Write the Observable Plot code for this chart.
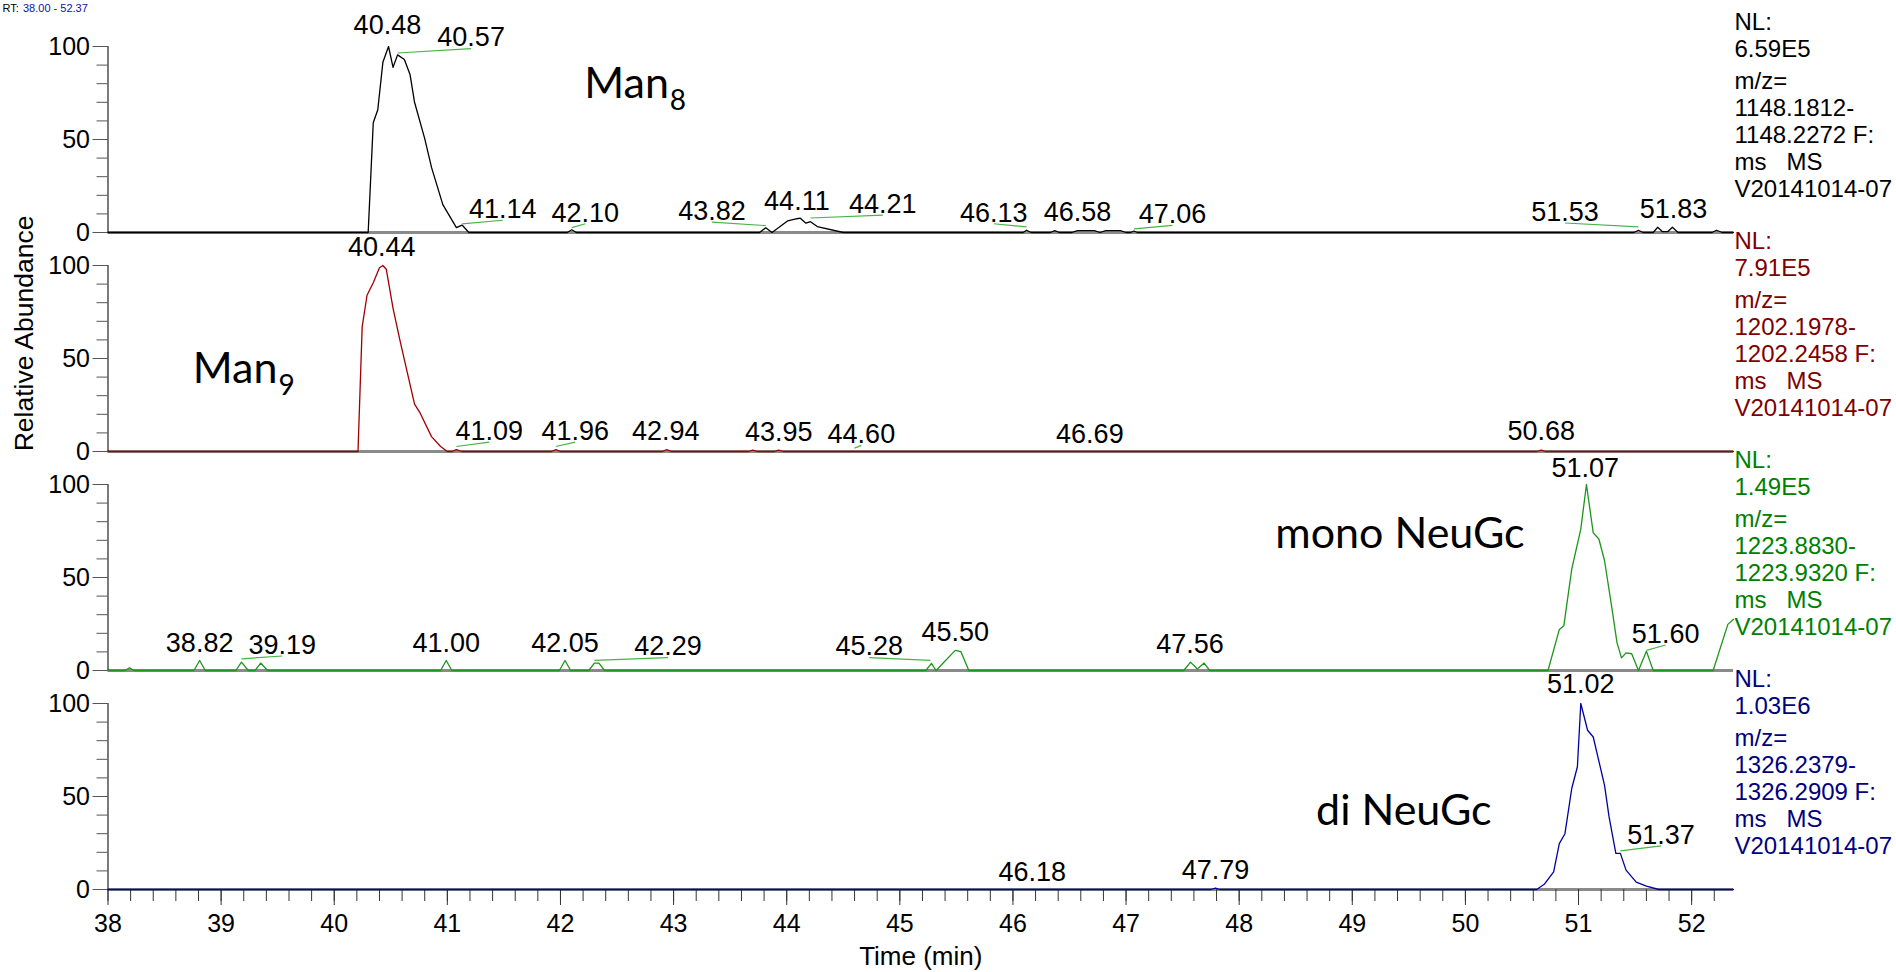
<!DOCTYPE html>
<html>
<head>
<meta charset="utf-8">
<script src="https://cdn.jsdelivr.net/npm/d3@7"></script>
<script src="https://cdn.jsdelivr.net/npm/@observablehq/plot@0.6"></script>
<style>
  body { margin: 0; background: #ffffff; }
  #chart { position: relative; width: 1896px; height: 972px; overflow: hidden; background: #fff; }
</style>
</head>
<body>
<div id="chart"></div>
<script>
// ---------- panels ----------
const panels = ["Man8", "Man9", "monoNeuGc", "diNeuGc"];
const textColors = ["#000000", "#800000", "#008000", "#000080"];
const lineColors = ["#000000", "#a00000", "#1c961c", "#0000a0"];

// ---------- traces (time in min, relative abundance %) ----------
const man8Time  = [38.00, 40.30, 40.345, 40.385, 40.43, 40.48, 40.52, 40.56, 40.62, 40.67, 40.71, 40.80, 40.86, 40.96, 41.08, 41.13, 41.19,
                   42.06, 42.10, 42.14, 43.76, 43.815, 43.87, 44.01, 44.09, 44.12, 44.17, 44.21, 44.27, 44.50,
                   46.09, 46.12, 46.16, 46.33, 46.37, 46.41, 46.52, 46.57, 46.72, 46.77, 46.82, 46.95, 47.00, 47.04, 47.07, 47.10,
                   51.49, 51.53, 51.57, 51.66, 51.70, 51.74, 51.79, 51.83, 51.88, 52.18, 52.22, 52.27, 52.37];
const man8Abund = [0, 0, 59, 66, 91.5, 100, 88.8, 95.5, 93, 85, 70, 50.5, 35, 15, 2.6, 4, 0,
                   0, 1.5, 0, 0, 2.5, 0, 6.3, 7.4, 7.7, 5, 5.8, 3.2, 0,
                   0, 1.2, 0, 0, 1, 0, 0, 1, 1, 0, 1, 1, 0, 0, 0.8, 0,
                   0, 1.2, 0, 0, 2.8, 0.5, 0.5, 2.8, 0, 0, 1.2, 0, 0];

const man9Time  = [38.00, 40.21, 40.247, 40.29, 40.345, 40.40, 40.43, 40.46, 40.52, 40.58, 40.64, 40.71, 40.76, 40.86, 40.94, 41.00, 41.04, 41.08, 41.13,
                   41.92, 41.96, 42.00, 42.90, 42.94, 42.98, 43.66, 43.70, 43.74, 43.89, 43.93, 43.97, 50.63, 50.67, 50.71, 52.37];
const man9Abund = [0, 0, 67, 84, 90.7, 98.8, 100, 98, 77, 60, 44, 25.5, 20.6, 8, 2.7, 0, 0, 1, 0,
                   0, 1, 0, 0, 1, 0, 0, 0.8, 0, 0, 0.8, 0, 0, 0.8, 0, 0];

const monoTime  = [38.00, 38.15, 38.19, 38.23, 38.76, 38.81, 38.86, 39.13, 39.18, 39.24, 39.30, 39.35, 39.41, 40.94, 40.99, 41.04,
                   41.99, 42.04, 42.09, 42.25, 42.30, 42.34, 42.39, 45.23, 45.28, 45.32, 45.49, 45.54, 45.61,
                   47.51, 47.57, 47.63, 47.69, 47.74,
                   50.73, 50.83, 50.87, 50.94, 51.02, 51.07, 51.13, 51.18, 51.23, 51.29, 51.34, 51.38, 51.42, 51.47, 51.53, 51.60, 51.66,
                   52.19, 52.32, 52.37];
const monoAbund = [0, 0, 1.4, 0, 0, 5.4, 0, 0, 4.5, 0, 0, 4, 0, 0, 5.4, 0,
                   0, 5.4, 0, 0, 4, 4, 0, 0, 3.8, 0, 10.8, 10.1, 0,
                   0, 4.5, 0.8, 4, 0,
                   0, 22, 24, 54.5, 76, 100, 74, 70.7, 59, 35.6, 15, 6.8, 9.5, 9, 0, 10.4, 0,
                   0, 24.8, 27.5];

const diTime    = [38.00, 47.75, 47.79, 47.83, 50.63, 50.70, 50.78, 50.83, 50.88, 50.94, 50.99, 51.02, 51.08, 51.13, 51.23, 51.27,
                   51.33, 51.37, 51.42, 51.51, 51.60, 51.71, 52.37];
const diAbund   = [0, 0, 0.8, 0, 0, 3, 9.5, 24.7, 30, 54.3, 66, 100, 85.6, 82, 56, 39,
                   19.4, 19.4, 10.4, 4, 1.8, 0, 0];

// ---------- peak labels ----------
const man8Labels = ["40.48", "40.57", "41.14", "42.10", "43.82", "44.11", "44.21", "46.13", "46.58", "47.06", "51.53", "51.83"];
const man8PeakT  = [40.48, 40.56, 41.13, 42.10, 43.815, 44.11, 44.21, 46.12, 46.58, 47.07, 51.53, 51.83];
const man8PeakV  = [100, 96.5, 4.6, 2.6, 3.7, 7.7, 7.8, 3, 1, 1.9, 3, 2.8];
const man8LabT   = [40.47, 41.21, 41.49, 42.22, 43.34, 44.09, 44.85, 45.83, 46.57, 47.41, 50.88, 51.84];
const man8LabV   = [106.7, 100.1, 7.8, 5.9, 6.8, 12.3, 10.5, 5.9, 6.3, 5.0, 6.3, 7.8];

const man9Labels = ["40.44", "41.09", "41.96", "42.94", "43.95", "44.60", "46.69", "50.68"];
const man9PeakT  = [40.43, 41.08, 41.96, 42.94, 43.93, 44.60, 46.69, 50.67];
const man9PeakV  = [100, 2.7, 2.7, 1, 0.8, 1.8, 0, 0.8];
const man9LabT   = [40.42, 41.37, 42.13, 42.93, 43.93, 44.66, 46.68, 50.67];
const man9LabV   = [105.1, 6.25, 6.25, 6.25, 5.7, 4.5, 4.5, 6.25];

const monoLabels = ["38.82", "39.19", "41.00", "42.05", "42.29", "45.28", "45.50", "47.56", "51.07", "51.60"];
const monoPeakT  = [38.81, 39.18, 40.99, 42.04, 42.30, 45.27, 45.50, 47.57, 51.07, 51.60];
const monoPeakV  = [5.4, 6.3, 5.4, 5.4, 5.4, 5.4, 10.8, 4.5, 100, 10.8];
const monoLabT   = [38.81, 39.54, 40.99, 42.04, 42.95, 44.73, 45.49, 47.565, 51.06, 51.77];
const monoLabV   = [10.0, 9.0, 10.0, 10.0, 8.1, 8.1, 15.8, 9.2, 104.3, 14.9];

const diLabels   = ["46.18", "47.79", "51.02", "51.37"];
const diPeakT    = [46.18, 47.79, 51.02, 51.37];
const diPeakV    = [0, 0.8, 100, 20.8];
const diLabT     = [46.17, 47.79, 51.02, 51.73];
const diLabV     = [4.6, 5.9, 105.4, 24.7];

// ---------- right-side scan info ----------
const nlValues  = ["6.59E5", "7.91E5", "1.49E5", "1.03E6"];
const mzLow     = ["1148.1812", "1202.1978", "1223.8830", "1326.2379"];
const mzHigh    = ["1148.2272", "1202.2458", "1223.9320", "1326.2909"];
const fileName  = "V20141014-07";

// ---------- compound names ----------
const nameMain = ["Man", "Man", "mono NeuGc", "di NeuGc"];
const nameSub  = ["8", "9", "", ""];
const nameT    = [42.21, 38.75, 48.32, 48.68];
const nameV    = [72.4, 36.8, 65.8, 34.6];

// ---------- header / axis titles ----------
const rtPrefix = "RT:";
const rtRange = "38.00 - 52.37";
const yTitle = "Relative Abundance";
const xTitle = "Time (min)";

// ---------- axes ----------
const xDomain = [38, 52.37];
const xMajorTicks = d3.range(38, 53, 1);
const xMinorTicks = d3.range(0, 72).map(i => 38 + i * 0.2).filter(v => v <= 52.37);
const yMajorTicks = [0, 50, 100];
const yMinorTicks = d3.range(0, 101, 10);

// ---------- build tables ----------
const traceTimes = [man8Time, man9Time, monoTime, diTime];
const traceAbund = [man8Abund, man9Abund, monoAbund, diAbund];
const labelSets = [
  [man8Labels, man8PeakT, man8PeakV, man8LabT, man8LabV],
  [man9Labels, man9PeakT, man9PeakV, man9LabT, man9LabV],
  [monoLabels, monoPeakT, monoPeakV, monoLabT, monoLabV],
  [diLabels, diPeakT, diPeakV, diLabT, diLabV]
];

const labelRows = [];
labelSets.forEach(([L, PT, PV, LT, LV], p) => {
  L.forEach((txt, i) => labelRows.push({panel: panels[p], label: txt, pt: PT[i], pv: PV[i], lt: LT[i], lv: LV[i]}));
});
const leaderRows = labelRows.filter(d => Math.abs(d.lt - d.pt) > 0.04);

const ctx = document.createElement("canvas").getContext("2d");
ctx.font = "43px Lato";

const marks = [
  // baseline (x axis line of each panel)
  Plot.ruleY([0], {stroke: "#8a8a8a", strokeWidth: 3}),
  // y axis line
  Plot.ruleX([38], {y1: 0, y2: 100, stroke: "#333", strokeWidth: 1.3}),
  Plot.axisY({ticks: yMinorTicks, tickSize: 11, tickFormat: () => "", label: null, stroke: "#555"}),
  Plot.axisY({ticks: yMajorTicks, tickSize: 15, tickPadding: 3, fontSize: 25, label: null, stroke: "#555", fill: "#000"}),
  Plot.axisX({ticks: xMinorTicks, tickSize: 12, tickFormat: () => "", label: null, stroke: "#333"}),
  Plot.axisX({ticks: xMajorTicks, tickSize: 16, tickPadding: 9, fontSize: 25, label: null, stroke: "#333", fill: "#000"})
];

panels.forEach((panel, p) => {
  const rows = traceTimes[p].map((t, i) => ({panel, t, v: traceAbund[p][i]}));
  marks.push(Plot.line(rows, {x: "t", y: "v", fy: "panel", stroke: lineColors[p], strokeWidth: 1.3}));
  const infoA = `NL:\n${nlValues[p]}`;
  const infoB = `m/z=\n${mzLow[p]}-\n${mzHigh[p]} F:\nms\u00a0\u00a0\u00a0MS\n${fileName}`;
  marks.push(Plot.text([{panel, info: infoA}], {
    fy: "panel", text: "info", frameAnchor: "top-right", textAnchor: "start", lineAnchor: "top",
    dx: 1, dy: -36, lineHeight: 1.125, fontSize: 24, fill: textColors[p]
  }));
  marks.push(Plot.text([{panel, info: infoB}], {
    fy: "panel", text: "info", frameAnchor: "top-right", textAnchor: "start", lineAnchor: "top",
    dx: 1, dy: -36 + 59, lineHeight: 1.125, fontSize: 24, fill: textColors[p]
  }));
  const nm = {panel, t: nameT[p], v: nameV[p], main: nameMain[p], sub: nameSub[p]};
  marks.push(Plot.text([nm], {
    x: "t", y: "v", fy: "panel", text: "main", textAnchor: "start", lineAnchor: "bottom",
    fontSize: 43, fontFamily: "Lato, 'Noto Sans', sans-serif", fill: "#000"
  }));
  if (nm.sub) {
    const w = ctx.measureText(nm.main).width;
    marks.push(Plot.text([nm], {
      x: "t", y: "v", fy: "panel", text: "sub", textAnchor: "start", lineAnchor: "bottom",
      dx: w + 1, dy: 12, fontSize: 28, fontFamily: "Lato, 'Noto Sans', sans-serif", fill: "#000"
    }));
  }
});

marks.push(
  Plot.link(leaderRows, {x1: "pt", y1: "pv", x2: "lt", y2: d => d.lv - 1.2, fy: "panel", stroke: "#46b446", strokeWidth: 1.2}),
  Plot.text(labelRows, {x: "lt", y: "lv", fy: "panel", text: "label", lineAnchor: "bottom", fontSize: 27, fill: "#000"}),
  // y axis title
  Plot.text([{panel: panels[1], t: yTitle}], {
    fy: "panel", text: "t", frameAnchor: "left", textAnchor: "middle", lineAnchor: "middle",
    rotate: -90, dx: -83, dy: -25, fontSize: 26.5, fill: "#000"
  }),
  // x axis title
  Plot.text([{panel: panels[3], t: xTitle}], {
    fy: "panel", text: "t", frameAnchor: "bottom", textAnchor: "middle", lineAnchor: "bottom", dy: 75, fontSize: 26, fill: "#000"
  }),
  // RT header at the top-left corner
  Plot.text([{panel: panels[0], t: rtPrefix}], {
    fy: "panel", text: "t", frameAnchor: "top-left", textAnchor: "start", lineAnchor: "bottom",
    dx: -105.5, dy: -34.7, fontSize: 11, fill: "#000"
  }),
  Plot.text([{panel: panels[0], t: rtRange}], {
    fy: "panel", text: "t", frameAnchor: "top-left", textAnchor: "start", lineAnchor: "bottom",
    dx: -85, dy: -34.7, fontSize: 11, fill: "#1010a0"
  })
);

const chart = Plot.plot({
  width: 1896,
  height: 972,
  marginLeft: 107.5,
  marginRight: 163,
  marginTop: 44.7,
  marginBottom: 82.7,
  style: {fontFamily: "'Liberation Sans', Arial, sans-serif", fontSize: "24px", background: "#fff", color: "#000"},
  x: {domain: xDomain},
  y: {domain: [0, 100]},
  fy: {domain: panels, paddingInner: 0.152, paddingOuter: 0, axis: null, label: null},
  marks
});
document.getElementById("chart").appendChild(chart);
</script>
</body>
</html>
